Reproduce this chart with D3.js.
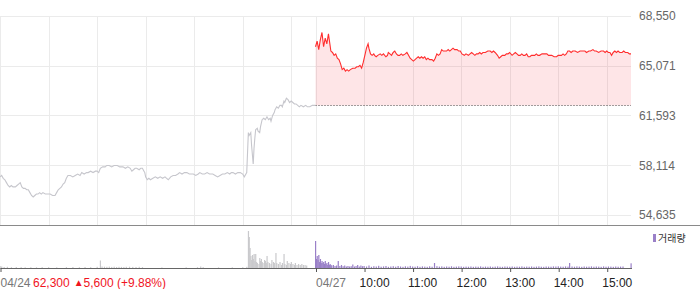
<!DOCTYPE html>
<html><head><meta charset="utf-8">
<script src="https://cdn.jsdelivr.net/npm/d3@7"></script>
<style>
body{margin:0;background:#fff}
svg{display:block;font-family:"Liberation Sans",Arial,sans-serif}
</style>
</head><body>
<svg id="chart" width="700" height="289"></svg>
<script>
// ---------- data ----------
const dates = ["04/24", "04/27"];
const hourLabels = ["10:00", "11:00", "12:00", "13:00", "14:00", "15:00"];
const yTicks = [54635, 58114, 61593, 65071, 68550];
const prevClose = 62300;
const changeText = ["62,300", "▲", "5,600 (+9.88%)"];
const legendLabel = "거래량";

const prevTimes = [
"09:00","09:02","09:04","09:06","09:08","09:10","09:12","09:14","09:16","09:19",
"09:21","09:23","09:25","09:27","09:29","09:31","09:33","09:35","09:37","09:39",
"09:41","09:43","09:45","09:47","09:49","09:51","09:53","09:56","09:59","10:02",
"10:05","10:08","10:10","10:12","10:14","10:16","10:18","10:20","10:22","10:24",
"10:27","10:30","10:33","10:36","10:39","10:41","10:44","10:47","10:49","10:52",
"10:55","10:58","11:00","11:02","11:04","11:07","11:10","11:12","11:15","11:18",
"11:21","11:25","11:28","11:32","11:35","11:38","11:41","11:43","11:45","11:47",
"11:49","11:52","11:54","11:56","11:58","11:59","12:00","12:02","12:04","12:06",
"12:09","12:12","12:15","12:18","12:21","12:24","12:26","12:28","12:31","12:34",
"12:37","12:40","12:42","12:45","12:48","12:51","12:54","12:57","12:59","13:02",
"13:05","13:07","13:10","13:13","13:16","13:19","13:21","13:23","13:26","13:29",
"13:32","13:35","13:38","13:41","13:44","13:46","13:48","13:51","13:54","13:57",
"14:00","14:02","14:04","14:05","14:07","14:08","14:10","14:11","14:13","14:14",
"14:15","14:16","14:18","14:19","14:21","14:22","14:24","14:26","14:28","14:30",
"14:32","14:34","14:35","14:37","14:39","14:40","14:42","14:44","14:46","14:48",
"14:49","14:51","14:52","14:54","14:56","14:58","15:00","15:02","15:04","15:06",
"15:08","15:10","15:12","15:15","15:18","15:20","15:23","15:26","15:30"];
const prevPrices = [
57300,57400,57200,57100,56900,56700,56600,56700,56600,56600,
56700,56800,56900,56600,56500,56500,56400,56400,56200,56000,
55900,56000,56100,56100,56200,56100,56200,56100,56100,56100,
56000,56000,56200,56400,56500,56600,56800,56900,57200,57400,
57400,57300,57400,57500,57400,57600,57500,57600,57600,57700,
57600,57700,57700,57600,57900,58000,58000,58100,58100,58000,
58100,58100,58000,58000,57900,58000,57900,57700,57800,57900,
57900,57800,57900,57900,57700,57600,57300,57100,57200,57100,
57200,57300,57200,57300,57200,57300,57200,57100,57300,57400,
57400,57500,57600,57500,57600,57600,57500,57500,57500,57400,
57500,57600,57500,57500,57600,57500,57500,57500,57400,57300,
57400,57500,57500,57600,57500,57600,57600,57500,57600,57600,
57500,57300,57500,57600,60400,60200,60400,59500,58200,59300,
60000,60600,60700,60500,60400,60800,61300,61400,61300,61500,
61300,61400,61200,61600,61800,62000,62200,62100,62300,62300,
62200,62600,62500,62800,62700,62500,62600,62500,62400,62400,
62300,62200,62300,62200,62300,62200,62200,62300,62300];

const todayTimes = [
"09:00","09:02","09:04","09:06","09:08","09:10","09:12","09:14","09:16","09:17",
"09:19","09:21","09:23","09:25","09:27","09:29","09:31","09:33","09:35","09:37",
"09:39","09:41","09:43","09:46","09:49","09:51","09:53","09:55","09:57","09:59",
"10:01","10:03","10:05","10:06","10:08","10:10","10:12","10:13","10:15","10:17",
"10:20","10:22","10:24","10:27","10:29","10:30","10:32","10:34","10:36","10:38",
"10:40","10:42","10:44","10:46","10:48","10:51","10:53","10:55","10:57","10:59",
"11:01","11:03","11:05","11:07","11:09","11:11","11:13","11:15","11:17","11:19",
"11:21","11:24","11:26","11:28","11:30","11:32","11:34","11:36","11:38","11:40",
"11:42","11:44","11:46","11:48","11:50","11:52","11:55","11:57","11:59","12:01",
"12:04","12:06","12:09","12:11","12:13","12:15","12:17","12:19","12:21","12:23",
"12:25","12:27","12:30","12:33","12:36","12:38","12:40","12:42","12:45","12:47",
"12:49","12:51","12:54","12:56","12:58","13:00","13:03","13:05","13:07","13:09",
"13:11","13:13","13:15","13:17","13:19","13:21","13:23","13:25","13:27","13:29",
"13:31","13:33","13:35","13:37","13:40","13:43","13:46","13:48","13:50","13:52",
"13:55","13:58","14:00","14:02","14:04","14:06","14:08","14:10","14:12","14:14",
"14:16","14:18","14:21","14:24","14:27","14:30","14:33","14:35","14:38","14:40",
"14:43","14:45","14:47","14:50","14:53","14:56","14:58","15:00","15:02","15:04",
"15:06","15:08","15:10","15:12","15:14","15:16","15:19","15:21","15:23","15:26",
"15:28","15:30"];
const todayPrices = [
66400,66800,66200,66900,67400,66400,67000,66600,67300,66900,
66100,66000,65800,65900,65600,65500,65200,64800,64900,64700,
64800,64700,64800,64900,64900,65000,65000,65100,64900,65300,
65800,66300,66600,66300,65900,65800,65900,65800,65700,65800,
65900,65800,65900,65700,65800,66000,65900,65800,66000,66100,
65900,65800,65800,65900,65800,65900,66000,65800,65600,65500,
65400,65500,65600,65700,65600,65700,65600,65700,65500,65600,
65500,65500,65400,65600,65900,65800,65900,66200,66100,66100,
66100,66200,66100,66200,66300,66200,66200,66100,66100,65900,
65800,65900,65800,65900,66000,65900,65800,65900,65900,66000,
65900,66000,66000,66100,66100,66000,66100,66000,65800,65600,
65700,65800,65800,65900,65900,66000,65800,65900,66000,65900,
65800,65800,65900,65800,65800,65900,65700,65700,65800,65800,
65800,65900,65800,65800,65900,65900,65900,65800,65800,65800,
65700,65700,65800,65800,65800,65900,65800,65900,66100,66100,
66000,66100,66100,66000,66100,66100,66100,66000,66100,66100,
66200,66100,66100,66000,66100,66100,66000,66100,66000,66000,
65800,66000,66100,66000,66100,66000,66000,66100,66000,66000,
65900,65900];

const prevVolTimes = ["09:00","09:02","09:05","09:09","09:14","09:20","09:26","09:31","09:38","09:45","09:52","10:00","10:10","10:22","10:30","10:38","10:45","10:52","11:00","11:04","11:06","11:09","11:12","11:15","11:18","11:21","11:24","11:27","11:30","11:33","11:36","11:40","11:44","11:48","11:52","11:56","12:20","12:50","13:04","13:08","13:11","13:30","13:47","14:00","14:05","14:07","14:08","14:09","14:10","14:11","14:12","14:13","14:14","14:15","14:16","14:17","14:18","14:20","14:21","14:22","14:23","14:24","14:25","14:27","14:28","14:29","14:30","14:31","14:33","14:35","14:36","14:38","14:39","14:41","14:42","14:44","14:46","14:48","14:49","14:51","14:52","14:54","14:55","14:57","14:59","15:00","15:02","15:04","15:05","15:07","15:09","15:11","15:13","15:15","15:17","15:19"];
const prevVols = [2000,1500,1000,1200,800,1000,900,700,800,700,900,800,700,900,1000,800,1000,900,1200,7500,1500,1300,1200,1400,1100,1300,1000,1200,1100,1000,1200,1300,1100,1000,1200,900,600,700,800,1500,900,600,700,800,1200,37000,31000,20000,12000,8000,13000,9000,14000,7000,14000,6000,5000,4000,10000,7000,9000,6000,5000,8000,7000,5000,12000,6000,5000,4000,8000,6000,5000,15000,5000,4000,6000,3000,5000,14000,4000,3000,7000,5000,4000,6000,4000,3000,5000,3000,4000,3000,4000,3000,3000,2500];

const todayVolTimes = ["09:00","09:01","09:02","09:03","09:04","09:05","09:06","09:07","09:08","09:09","09:10","09:11","09:12","09:13","09:14","09:15","09:16","09:17","09:18","09:19","09:20","09:22","09:24","09:26","09:28","09:30","09:32","09:34","09:36","09:38","09:40","09:42","09:44","09:46","09:48","09:50","09:52","09:54","09:56","09:58",
"10:00","10:03","10:06","10:09","10:12","10:15","10:18","10:21","10:24","10:27","10:30","10:33","10:36","10:39","10:42","10:45","10:48","10:51","10:54","10:57",
"11:00","11:03","11:06","11:09","11:12","11:15","11:18","11:21","11:24","11:27","11:30","11:33","11:36","11:39","11:42","11:45","11:48","11:51","11:54","11:57",
"12:00","12:03","12:06","12:09","12:12","12:15","12:18","12:21","12:24","12:27","12:30","12:33","12:36","12:39","12:42","12:45","12:48","12:51","12:54","12:57",
"13:00","13:03","13:06","13:09","13:12","13:15","13:18","13:21","13:24","13:27","13:30","13:33","13:36","13:39","13:42","13:45","13:48","13:51","13:54","13:57",
"14:00","14:03","14:06","14:09","14:12","14:14","14:17","14:20","14:23","14:26","14:29","14:32","14:35","14:38","14:41","14:44","14:47","14:50","14:53","14:56",
"14:59","15:02","15:05","15:08","15:11","15:14","15:17","15:20","15:30"];
const todayVols = [27000,9000,12000,8000,13000,6000,9000,5000,7000,5000,6000,4000,7000,4000,5000,3000,6000,3000,4000,3000,2500,3000,2000,2500,7000,2000,3000,1800,2500,1500,2000,1500,1800,3500,1500,2000,3000,1500,2500,1800,
2000,1500,2500,1200,1800,1500,2200,1300,1600,2000,1200,1500,1800,1300,2000,1500,1200,1700,1400,2100,
1500,1300,1800,1200,1600,1400,1200,1700,1300,5000,1800,1400,1600,1200,1500,1300,1700,1200,1400,1600,
1500,1200,1400,1300,1500,1200,1400,1300,1600,1200,1400,1300,1500,1200,1400,1600,1300,1200,1500,1400,
1300,1500,1200,1400,1300,1600,1200,1400,1300,1500,1200,1400,1600,1300,1200,1500,1400,1300,1600,1500,
1700,1400,1300,1600,1400,5000,1500,1300,1600,1400,1200,1500,1300,1400,1600,1300,1500,1400,1200,1600,
1300,1500,1400,1200,1500,1300,1400,1500,4700];

// ---------- helpers ----------
const toMin = (day, t) => { const [h, m] = t.split(":").map(Number); return day * 390 + (h - 9) * 60 + m; };
const zip = (day, ts, vs) => ts.slice(0, Math.min(ts.length, vs.length)).map((t, i) => ({ m: toMin(day, t), v: vs[i] }));
const prev = zip(0, prevTimes, prevPrices);
const today = zip(1, todayTimes, todayPrices);
const prevVol = zip(0, prevVolTimes, prevVols);
const todayVol = zip(1, todayVolTimes, todayVols);

// ---------- scales ----------
const x = d3.scaleLinear().domain([0, 780]).range([0, 631]);
const y = d3.scaleLinear().domain([54635, 68550]).range([215, 16]);
const yv = d3.scaleLinear().domain([0, 43000]).range([268, 225]);

const svg = d3.select("#chart");
const gridColor = "#ebebeb";

// horizontal grid
svg.append("g").selectAll("line").data(yTicks).join("line")
  .attr("x1", 0).attr("x2", 631)
  .attr("y1", d => Math.round(y(d)) + 0.5).attr("y2", d => Math.round(y(d)) + 0.5)
  .attr("stroke", gridColor);

// vertical grid (hourly for both days)
const hourMins = [];
[0, 1].forEach(day => { for (let h = 9; h <= 15; h++) hourMins.push(day * 390 + (h - 9) * 60); });
svg.append("g").selectAll("line").data(hourMins).join("line")
  .attr("x1", d => Math.round(x(d)) + 0.5).attr("x2", d => Math.round(x(d)) + 0.5)
  .attr("y1", 16).attr("y2", 225)
  .attr("stroke", gridColor);

// fill area today vs previous close
const area = d3.area().x(d => x(d.m)).y0(y(prevClose)).y1(d => y(d.v));
svg.append("path").datum(today).attr("d", area)
  .attr("fill", "rgba(246,70,85,0.14)");

// baseline (prev close) dotted
svg.append("line")
  .attr("x1", x(390)).attr("x2", x(780))
  .attr("y1", Math.round(y(prevClose)) + 0.5).attr("y2", Math.round(y(prevClose)) + 0.5)
  .attr("stroke", "#444").attr("stroke-dasharray", "1,2");

const line = d3.line().x(d => x(d.m)).y(d => y(d.v));
svg.append("path").datum(prev).attr("d", line)
  .attr("fill", "none").attr("stroke", "#c6c6cc").attr("stroke-width", 1.1);
svg.append("path").datum(today).attr("d", line)
  .attr("fill", "none").attr("stroke", "#ff2d2d").attr("stroke-width", 1.1);

// right y axis
const yAxis = svg.append("g").attr("transform", "translate(631,0)")
  .call(d3.axisRight(y).tickValues(yTicks).tickFormat(d3.format(",")).tickSize(0).tickPadding(8));
yAxis.select(".domain").remove();
yAxis.selectAll("text").attr("fill", "#666").attr("font-size", 12)
  .attr("font-family", '"Liberation Sans",Arial,sans-serif');

// panel separator
svg.append("line").attr("x1", 0).attr("x2", 700).attr("y1", 225.5).attr("y2", 225.5).attr("stroke", "#8a8a8a");

// volume bars
svg.append("g").selectAll("rect").data(prevVol).join("rect")
  .attr("x", d => x(d.m) - 0.5).attr("width", 1.2)
  .attr("y", d => yv(d.v)).attr("height", d => yv(0) - yv(d.v))
  .attr("fill", "#c9c9cc");
svg.append("g").selectAll("rect").data(todayVol).join("rect")
  .attr("x", d => x(d.m) - 0.5).attr("width", 1.2)
  .attr("y", d => yv(d.v)).attr("height", d => yv(0) - yv(d.v))
  .attr("fill", "#9a80c8");

// legend
svg.append("rect").attr("x", 653).attr("y", 234).attr("width", 3).attr("height", 8).attr("fill", "#9a80c8");
svg.append("text").attr("x", 658).attr("y", 241.5).attr("font-size", 10)
  .attr("font-family", '"Noto Sans CJK KR",sans-serif').attr("fill", "#333").text(legendLabel);

// bottom axis
const tickMins = [0, 390, 450, 510, 570, 630, 690, 750];
const tickText = [dates[0], dates[1]].concat(hourLabels);
const xAxis = svg.append("g").attr("transform", "translate(0,268)")
  .call(d3.axisBottom(x).tickValues(tickMins).tickSize(4).tickPadding(6)
    .tickFormat((d, i) => tickText[i]));
xAxis.select(".domain").attr("d", "M0.5,0.5H632").attr("stroke", "#666");
xAxis.selectAll(".tick line").attr("stroke", "#555").attr("transform", "translate(0.5,0)");
xAxis.selectAll(".tick text")
  .attr("font-size", 12).attr("font-family", '"Liberation Sans",Arial,sans-serif')
  .attr("text-anchor", "start")
  .attr("x", (d, i) => i < 2 ? 0 : -5)
  .attr("fill", (d, i) => i < 2 ? "#777" : "#222");

// change label
const ct = svg.append("text").attr("x", 33).attr("y", 286.5).attr("font-size", 12)
  .attr("fill", "#f0141e");
ct.append("tspan").text(changeText[0]);
ct.append("tspan").attr("dx", 4).attr("font-size", 10).attr("dy", -1).text(changeText[1]);
ct.append("tspan").attr("dy", 1).text(changeText[2]);
</script>
</body></html>
